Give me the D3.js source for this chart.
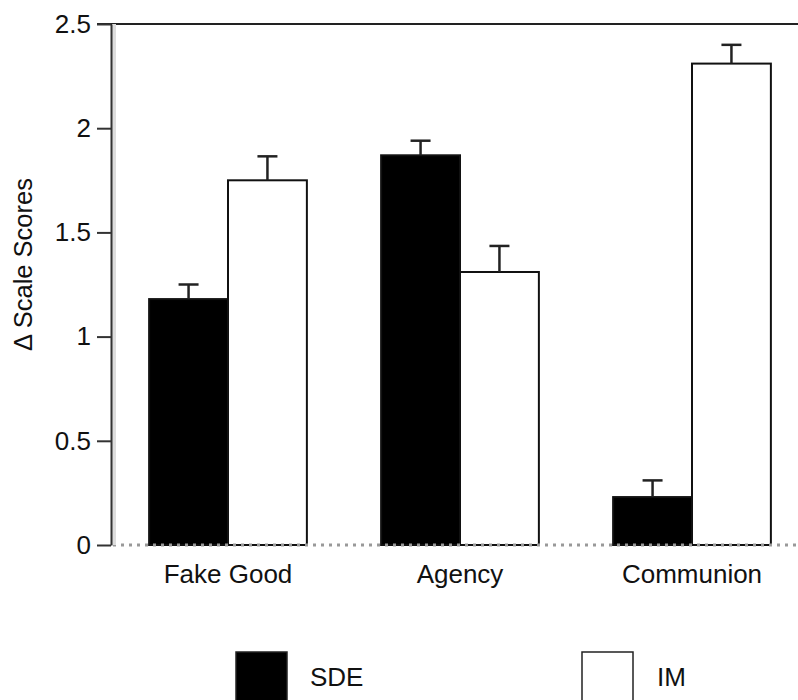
<!DOCTYPE html>
<html>
<head>
<meta charset="utf-8">
<script src="https://cdn.jsdelivr.net/npm/d3@7"></script>
<style>
  body { margin: 0; background: #fff; }
  svg { font-family: "Liberation Sans", Arial, sans-serif; }
</style>
</head>
<body>
<svg id="chart" width="798" height="700"></svg>
<script>
const categories = ["Fake Good", "Agency", "Communion"];
const series = ["SDE", "IM"];
const sdeValues = [1.18, 1.87, 0.23];
const sdeErrors = [0.07, 0.07, 0.08];
const imValues = [1.75, 1.31, 2.31];
const imErrors = [0.115, 0.125, 0.09];
const yTicks = [0, 0.5, 1, 1.5, 2, 2.5];
const yTickLabels = ["0", "0.5", "1", "1.5", "2", "2.5"];

const data = categories.map((c, i) => [
  { cat: c, key: "SDE", v: sdeValues[i], e: sdeErrors[i] },
  { cat: c, key: "IM", v: imValues[i], e: imErrors[i] }
]).flat();

const svg = d3.select("#chart");

const y = d3.scaleLinear().domain([0, 2.5]).range([545, 24]);
const x = d3.scaleBand().domain(categories).range([112, 808])
  .paddingInner(0.32).paddingOuter(0.16);
const xs = d3.scaleBand().domain(series).range([0, x.bandwidth()]);
const fill = d3.scaleOrdinal().domain(series).range(["#000", "#fff"]);

// top frame line
svg.append("line")
  .attr("x1", 97).attr("x2", 798)
  .attr("y1", y(2.5)).attr("y2", y(2.5))
  .attr("stroke", "#222").attr("stroke-width", 2);

// bars
const g = svg.append("g");
g.selectAll("rect")
  .data(data)
  .join("rect")
    .attr("x", d => x(d.cat) + xs(d.key))
    .attr("y", d => y(d.v))
    .attr("width", xs.bandwidth())
    .attr("height", d => y(0) - y(d.v))
    .attr("fill", d => fill(d.key))
    .attr("stroke", "#111")
    .attr("stroke-width", 2);

// error bars
const err = g.selectAll("g.err")
  .data(data)
  .join("g").attr("class", "err");
err.append("line")
  .attr("x1", d => x(d.cat) + xs(d.key) + xs.bandwidth() / 2)
  .attr("x2", d => x(d.cat) + xs(d.key) + xs.bandwidth() / 2)
  .attr("y1", d => y(d.v))
  .attr("y2", d => y(d.v + d.e))
  .attr("stroke", "#222").attr("stroke-width", 2.5);
err.append("line")
  .attr("x1", d => x(d.cat) + xs(d.key) + xs.bandwidth() / 2 - 10)
  .attr("x2", d => x(d.cat) + xs(d.key) + xs.bandwidth() / 2 + 10)
  .attr("y1", d => y(d.v + d.e))
  .attr("y2", d => y(d.v + d.e))
  .attr("stroke", "#222").attr("stroke-width", 2.5);

// dotted zero line
svg.append("line")
  .attr("x1", 113).attr("x2", 798)
  .attr("y1", y(0)).attr("y2", y(0))
  .attr("stroke", "#999").attr("stroke-width", 3)
  .attr("stroke-dasharray", "3,5");

// y axis
svg.append("rect")
  .attr("x", 112).attr("y", y(2.5))
  .attr("width", 4).attr("height", y(0) - y(2.5))
  .attr("fill", "#ddd");
const yAxis = svg.append("g")
  .attr("transform", "translate(111,0)")
  .call(d3.axisLeft(y).tickValues(yTicks)
    .tickFormat((d, i) => yTickLabels[i])
    .tickSize(14).tickPadding(6).tickSizeOuter(0));
yAxis.select(".domain").attr("stroke", "#333").attr("stroke-width", 2);
yAxis.selectAll(".tick line").attr("stroke", "#333").attr("stroke-width", 2);
yAxis.selectAll(".tick text")
  .attr("font-size", 26).attr("fill", "#111")
  .attr("font-family", "Liberation Sans, Arial, sans-serif");

svg.append("text")
  .attr("transform", `translate(32,${(y(0) + y(2.5)) / 2 - 20}) rotate(-90)`)
  .attr("text-anchor", "middle")
  .attr("font-size", 25.5)
  .attr("fill", "#111")
  .text("\u0394 Scale Scores");

// category labels
svg.append("g").selectAll("text")
  .data(categories)
  .join("text")
    .attr("x", d => x(d) + x.bandwidth() / 2)
    .attr("y", 583)
    .attr("text-anchor", "middle")
    .attr("font-size", 26)
    .attr("fill", "#111")
    .text(d => d);

// legend
const legendX = [236, 582];
const legend = svg.append("g").selectAll("g")
  .data(series)
  .join("g")
    .attr("transform", (d, i) => `translate(${legendX[i]},652)`);
legend.append("rect")
  .attr("width", 51).attr("height", 60)
  .attr("fill", d => fill(d))
  .attr("stroke", "#222").attr("stroke-width", 1.5);
legend.append("text")
  .attr("x", (d, i) => i === 0 ? 74 : 75)
  .attr("y", 34)
  .attr("font-size", 26)
  .attr("fill", "#111")
  .text(d => d);
</script>
</body>
</html>
